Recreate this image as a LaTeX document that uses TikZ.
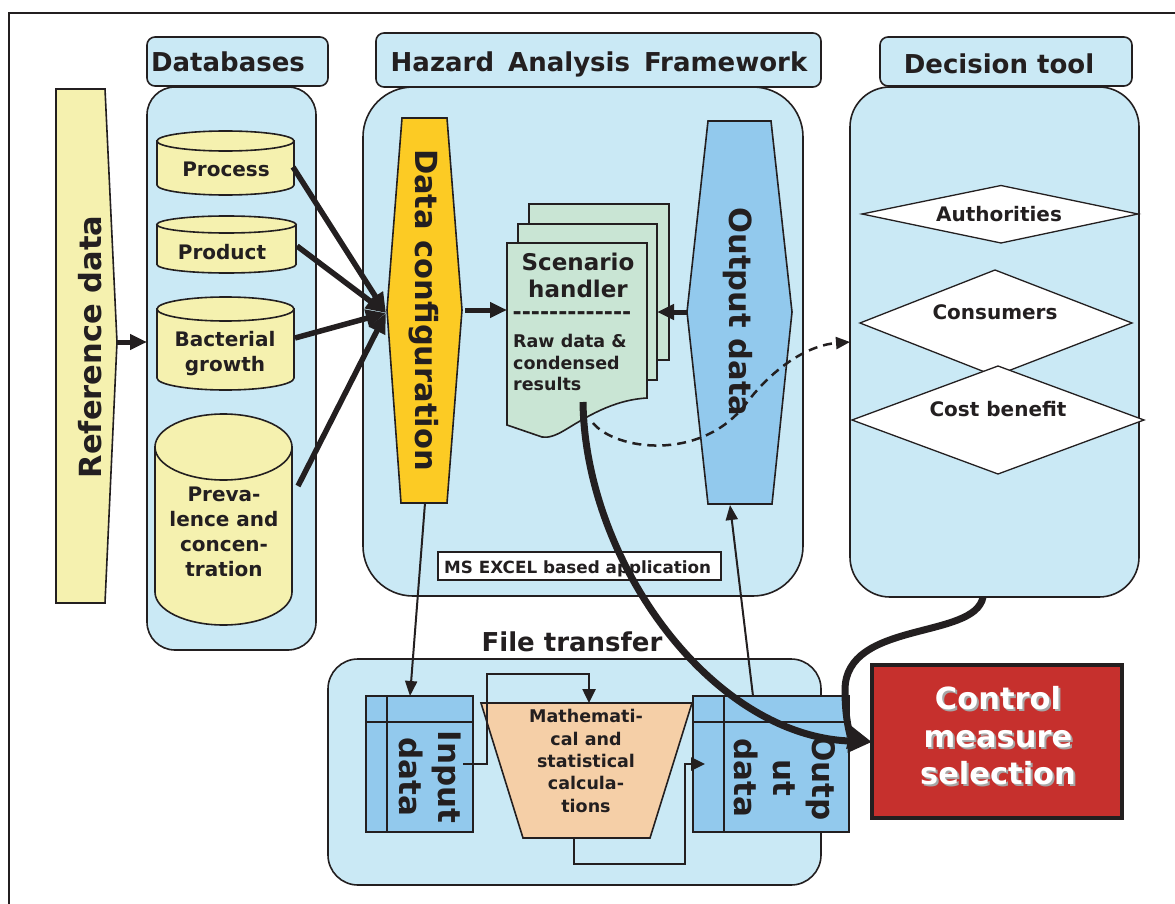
\documentclass[tikz,border=0pt]{standalone}
\usepackage{fontspec}
\setmainfont{DejaVu Sans}
\usetikzlibrary{arrows.meta}
\definecolor{panel}{RGB}{202,233,245}
\definecolor{pale}{RGB}{245,241,175}
\definecolor{gold}{RGB}{252,203,36}
\definecolor{sky}{RGB}{146,201,237}
\definecolor{mint}{RGB}{201,229,212}
\definecolor{peach}{RGB}{245,207,167}
\definecolor{redbox}{RGB}{198,48,45}
\definecolor{ink}{RGB}{35,31,32}
\newcommand\hyph{\mbox{-}}
\newcommand\dbcyl[5]{%
  \pgfmathsetmacro\cylcx{(#1+#2)/2}%
  \pgfmathsetmacro\cylrx{(#2-#1)/2}%
  \draw[ln, fill=pale] (#1,#3) -- (#1,#4) arc[start angle=180, end angle=0, x radius=\cylrx, y radius=#5] -- (#2,#3) -- cycle;
  \draw[ln, fill=pale] (\cylcx,#3) ellipse[x radius=\cylrx, y radius=#5];
}
\tikzset{
  ln/.style={draw=ink, line width=1.6pt},
  panelbox/.style={ln, fill=panel},
  headtxt/.style={font=\fontsize{26}{30}\selectfont\bfseries, text=ink, inner sep=0pt},
  bigtxt/.style={font=\fontsize{30.5}{36}\selectfont\bfseries, text=ink, inner sep=0pt},
  filetxt/.style={font=\fontsize{31}{39}\selectfont\bfseries, text=ink, inner sep=0pt},
  ctltxt/.style={font=\fontsize{30.5}{37.5}\selectfont\bfseries, inner sep=0pt},
  midtxt/.style={font=\fontsize{20}{25}\selectfont\bfseries, text=ink, inner sep=0pt},
  scentxt/.style={font=\fontsize{23}{27}\selectfont\bfseries, text=ink, inner sep=0pt},
  smalltxt/.style={font=\fontsize{17.5}{21.7}\selectfont\bfseries, text=ink, inner sep=0pt},
  mathtxt/.style={font=\fontsize{17.5}{22.3}\selectfont\bfseries, text=ink, inner sep=0pt},
  exceltxt/.style={font=\fontsize{16.8}{20}\selectfont\bfseries, text=ink, inner sep=0pt},
  convarrow/.style={draw=ink, line width=5.5pt, -{Triangle[length=20pt,width=17pt]}},
  bigarrow/.style={draw=ink, line width=5pt, -{Triangle[length=17pt,width=15pt]}},
  medarrow/.style={draw=ink, line width=2.5pt, -{Triangle[length=14pt,width=13pt]}},
  thinarrow/.style={draw=ink, line width=2pt, -{Triangle[length=15pt,width=12pt]}},
  hugearrow/.style={draw=ink, line width=7pt, -{Triangle[length=24pt,width=22pt]}},
  dasharrow/.style={draw=ink, line width=2.5pt, dash pattern=on 9pt off 6pt, -{Triangle[length=14pt,width=12pt]}},
}
\begin{document}
\begin{tikzpicture}[x=1pt,y=-1pt]
\useasboundingbox (0,0) rectangle (1175,904);
\fill[white] (0,0) rectangle (1175,904);
% frame
\draw[ink, line width=2pt] (9,904) -- (9,13) -- (1175,13);

% ---------- Databases ----------
\draw[panelbox, rounded corners=28pt] (147,87) rectangle (316,650);
\draw[panelbox, rounded corners=8pt] (147,37) rectangle (328,86);
\node[headtxt, anchor=base] (dbtitle) at (228,72) {Databases};

% Reference data
\draw[ln, fill=pale] (56,89) -- (105,89) -- (117,342) -- (105,603) -- (56,603) -- cycle;
\node[bigtxt, rotate=90] (reftxt) at (90,347) {Reference data};
\coordinate (refR) at (117,342);
\coordinate (dbL) at (147,342);

% cylinders
\dbcyl{157}{294}{141}{185}{10}
\node[midtxt, anchor=base] (proc) at (226,177) {Process};
\dbcyl{157}{296}{224.5}{264.5}{8.5}
\node[midtxt, anchor=base] (prod) at (222,259) {Product};
\dbcyl{157}{294}{309}{378}{12}
\node[midtxt, align=center] (bact) at (225,354) {Bacterial\\growth};
\dbcyl{155}{292}{447}{592}{33}
\node[midtxt, align=center] (prev) at (224,532) {Preva-\\lence and\\concen-\\tration};
\coordinate (procR) at (293,167);
\coordinate (prodR) at (297,246);
\coordinate (bactR) at (295,338);
\coordinate (prevR) at (298,486);

% ---------- Hazard Analysis Framework ----------
\draw[panelbox, rounded corners=50pt] (363,87) rectangle (803,596);
\draw[panelbox, rounded corners=8pt] (376,33) rectangle (821,87);
\node[headtxt, anchor=base] (haftitle) at (599,72) {Hazard\hspace{5pt} Analysis\hspace{5pt} Framework};

% data configuration
\draw[ln, fill=gold] (402,118) -- (447,118) -- (462,310) -- (447,503) -- (401,503) -- (387,310) -- cycle;
\node[bigtxt, rotate=-90] (dctxt) at (424,310) {Data configuration};
\coordinate (dcL) at (386,313);
\coordinate (dcR) at (465,310);
\coordinate (dcB) at (425,503);

% output data
\draw[ln, fill=sky] (708,121) -- (771,121) -- (792,312) -- (772,504) -- (708,504) -- (687,312) -- cycle;
\node[bigtxt, rotate=-90] (odtxt) at (738,312) {Output data};
\coordinate (odL) at (688,312);
\coordinate (odB) at (730,505);

% scenario handler
\draw[ln, fill=mint] (529,204) rectangle (669,360);
\draw[ln, fill=mint] (518,224) rectangle (657,380);
\draw[ln, fill=mint] (507,243) -- (647,243) -- (647,398) .. controls (612,400) and (585,418) .. (565,430) .. controls (555,436) and (548,438) .. (542,437) -- (507,425) -- cycle;
\node[scentxt, align=center] (scen) at (578,275) {Scenario\\handler};
\node[font=\fontsize{22}{26}\selectfont\bfseries, text=ink, inner sep=0pt] (dashes) at (572,316) {\hyph\hyph\hyph\hyph\hyph\hyph\hyph\hyph\hyph\hyph\hyph\hyph\hyph};
\node[smalltxt, align=left, anchor=north west] (raw) at (513,334) {Raw data \&\\condensed\\results};
\coordinate (scL) at (507,310);
\coordinate (scR) at (657,312);
\coordinate (scB) at (583,402);
\coordinate (scBR) at (593,423);

% MS EXCEL label
\draw[draw=ink, line width=1.5pt, fill=white] (438,552) rectangle (721,580);
\node[exceltxt, anchor=base west] (excel) at (444,573) {MS EXCEL based application};

% ---------- Decision tool ----------
\draw[panelbox, rounded corners=40pt] (850,87) rectangle (1139,597);
\draw[panelbox, rounded corners=8pt] (880,37) rectangle (1132,86);
\node[headtxt, anchor=base] (dttitle) at (999,74) {Decision tool};
\draw[draw=ink, line width=1.3pt, fill=white] (862,214) -- (1001,185.5) -- (1138,214) -- (1001,243) -- cycle;
\node[midtxt, anchor=base] (auth) at (999,222) {Authorities};
\draw[draw=ink, line width=1.3pt, fill=white] (860,323) -- (995,270) -- (1132,323) -- (995,376) -- cycle;
\node[midtxt, anchor=base] (cons) at (995,319) {Consumers};
\draw[draw=ink, line width=1.3pt, fill=white] (852,420) -- (998,366) -- (1144,420) -- (998,474) -- cycle;
\node[midtxt, anchor=base] (cost) at (998,416) {Cost benefit};
\coordinate (dtL) at (850,342);
\coordinate (dtB) at (983,597);

% ---------- File transfer ----------
\node[headtxt, anchor=base] (fttitle) at (572,651) {File transfer};
\draw[panelbox, rounded corners=30pt] (328,659) rectangle (821,885);
% input data
\draw[ln, fill=sky] (366,696) rectangle (473,832);
\draw[ln] (387,696) -- (387,832);
\draw[ln] (366,722) -- (473,722);
\node[filetxt, rotate=-90, align=center] (intxt) at (430,777) {Input\\data};
% output data file
\draw[ln, fill=sky] (693,696) rectangle (849,832);
\draw[ln] (724,696) -- (724,832);
\draw[ln] (693,722) -- (849,722);
\node[filetxt, rotate=-90, align=center] (outtxt) at (785,778) {Outp\\ut\\data};
% calculations
\draw[ln, fill=peach] (481,703) -- (692,703) -- (650,838) -- (523,838) -- cycle;
\node[mathtxt, align=center] (math) at (586,761) {Mathemati-\\cal and\\statistical\\calcula-\\tions};
\coordinate (inT) at (410,696);
\coordinate (inR) at (463,764);
\coordinate (mathT) at (589,703);
\coordinate (mathB) at (574,838);
\coordinate (outL) at (705,764);
\coordinate (outT) at (753,696);

% ---------- Control measure selection ----------
\draw[draw=ink, line width=4.5pt, fill=redbox] (872,665) rectangle (1122,818);
\node[ctltxt, text=black!35, align=center] (ctlshadow) at (1000,738) {Control\\measure\\selection};
\node[ctltxt, text=white, align=center] (ctl) at (998,736) {Control\\measure\\selection};
\coordinate (csL) at (872,742);

% ---------- connectors ----------
\draw[bigarrow] (refR) -- (dbL);
\draw[convarrow] (procR) -- (dcL);
\draw[convarrow] (prodR) -- (dcL);
\draw[convarrow] (bactR) -- (dcL);
\draw[convarrow] (prevR) -- (dcL);
\draw[bigarrow] (dcR) -- (scL);
\draw[bigarrow] (odL) -- (scR);
\draw[thinarrow] (dcB) -- (inT);
\draw[thinarrow] (outT) -- (odB);
\draw[medarrow] (inR) -- (487,764) -- (487,674) -- (589,674) -- (mathT);
\draw[medarrow] (mathB) -- (574,864) -- (685,864) -- (685,764) -- (outL);
\draw[dasharrow] (scBR) .. controls (615,450) and (700,462) .. (745,405) .. controls (775,365) and (810,345) .. (dtL);
\draw[hugearrow] (scB) .. controls (585,560) and (710,735) .. (csL);
\draw[hugearrow] (dtB) .. controls (975,640) and (845,620) .. (845,690) .. controls (845,725) and (852,738) .. (csL);
\end{tikzpicture}
\end{document}
